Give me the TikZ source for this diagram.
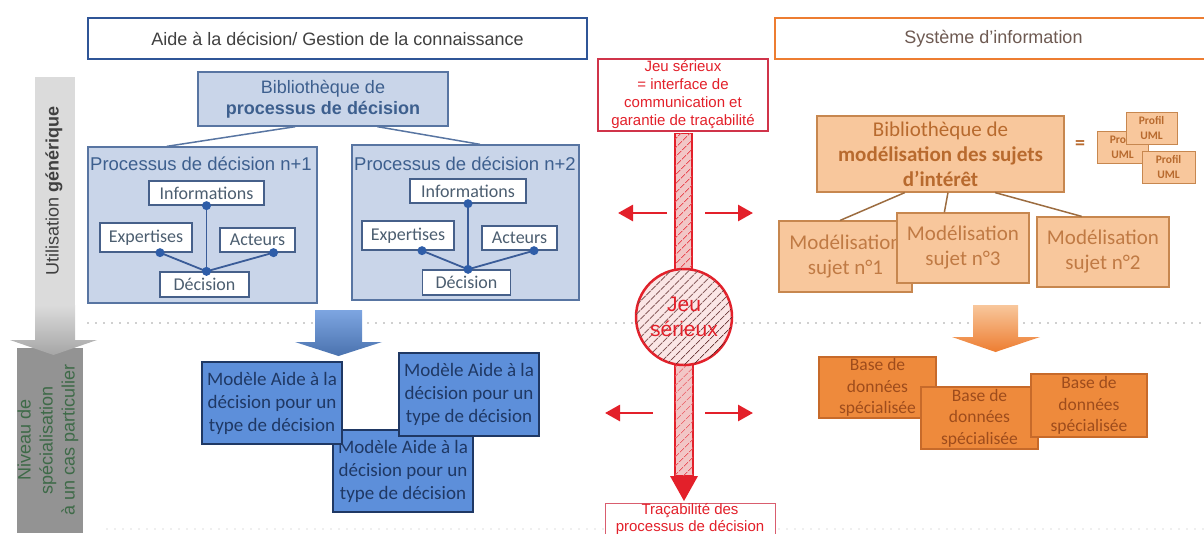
\documentclass[tikz,border=0pt]{standalone}
\usepackage{fontspec}
\setmainfont{Liberation Sans}
\newfontfamily\calibri{Carlito}
\usetikzlibrary{calc,arrows.meta,patterns.meta}

\definecolor{hdblue}{HTML}{2F5597}
\definecolor{hdorange}{HTML}{ED7D31}
\definecolor{hdtext}{HTML}{404040}
\definecolor{sitext}{HTML}{6E5A52}
\definecolor{libfill}{HTML}{C9D5E9}
\definecolor{libedge}{HTML}{5875A2}
\definecolor{libtext}{HTML}{3D5F8E}
\definecolor{itemedge}{HTML}{46608A}
\definecolor{itemtext}{HTML}{4C5E70}
\definecolor{linkblue}{HTML}{3A5C98}
\definecolor{dotblue}{HTML}{2E5DA8}
\definecolor{modfill}{HTML}{5D8FDA}
\definecolor{modedge}{HTML}{1F3864}
\definecolor{modtext}{HTML}{1F3864}
\definecolor{sujfill}{HTML}{F8C79C}
\definecolor{sujedge}{HTML}{C7874F}
\definecolor{sujtitle}{HTML}{B86A2E}
\definecolor{sujtext}{HTML}{C07A44}
\definecolor{sujlink}{HTML}{9C6C40}
\definecolor{basefill}{HTML}{EE8A3C}
\definecolor{baseedge}{HTML}{C76A2A}
\definecolor{basetext}{HTML}{9E4C1C}
\definecolor{jeured}{HTML}{E3202A}
\definecolor{jeuedge}{HTML}{D0344A}
\definecolor{barpink}{HTML}{F2C6C6}
\definecolor{circpink}{HTML}{FBE6E6}
\definecolor{circhatch}{HTML}{5A2222}
\definecolor{niveautext}{HTML}{3E6A48}

\begin{document}
\begin{tikzpicture}[x=1pt,y=-1pt,
  headbox/.style={draw, line width=2.5pt, fill=white, inner sep=0pt, minimum height=41pt, font=\fontsize{18}{21}\selectfont},
  libbox/.style={draw=libedge, line width=1.3pt, fill=libfill, inner sep=0pt},
  itembox/.style={draw=itemedge, line width=1.3pt, fill=white, inner sep=0pt, text=itemtext, font=\calibri\fontsize{18}{20}\selectfont},
  modbox/.style={draw=modedge, line width=1.2pt, fill=modfill, text=modtext, inner sep=0pt, minimum width=140pt, minimum height=82pt, align=center, font=\calibri\fontsize{19}{23}\selectfont},
  sujbox/.style={draw=sujedge, line width=1.2pt, fill=sujfill, text=sujtext, inner sep=0pt, minimum width=132pt, minimum height=70pt, align=center, font=\calibri\fontsize{21}{25}\selectfont},
  umlbox/.style={draw=sujedge, line width=1pt, fill=sujfill, text=sujtitle, inner sep=0pt, minimum width=51pt, minimum height=32pt, align=center, font=\calibri\bfseries\fontsize{11.5}{15}\selectfont},
  basebox/.style={draw=baseedge, line width=1.2pt, fill=basefill, text=basetext, inner sep=0pt, minimum width=117pt, minimum height=62pt, align=center, font=\calibri\fontsize{17.5}{21.5}\selectfont},
  link/.style={draw=linkblue, line width=1.8pt},
  sujline/.style={draw=sujlink, line width=1.5pt},
  sidearrow/.style={draw=jeured, line width=2.8pt, -{Triangle[length=15pt,width=16pt]}},
  hatch/.style={postaction={pattern={Lines[angle=45,distance=6.5pt,line width=0.9pt]}, pattern color=#1}},
  sepline/.style={draw=#1, line width=1.8pt, line cap=round, dash pattern=on 0pt off 8pt},
]
  \useasboundingbox (0,0) rectangle (1204,533);

  % separators
  \draw[sepline=gray!75] (88,323) -- (1204,323);
  \draw[sepline=gray!25] (107,529) -- (1204,529);

  % left level bar
  \fill[gray!28] (35,77) rectangle (75,305);
  \node[rotate=90, text=hdtext, font=\fontsize{18}{21}\selectfont] (utilis) at (54,191) {Utilisation \textbf{générique}};
  \fill[gray!85!white] (17,348) rectangle (83,533);
  \shade[top color=gray!28, bottom color=gray!70] (35,305) -- (75,305) -- (75,340) -- (97,340) -- (53.5,355) -- (10,340) -- (35,340) -- cycle;
  \node[rotate=90, align=center, text=niveautext, font=\fontsize{18}{22}\selectfont] (niveau) at (48,440) {Niveau de\\spécialisation\\à un cas particulier};

  % headers
  \node[headbox, draw=hdblue, text=hdtext, minimum width=499pt] (aidehead) at (337.5,38.5) {Aide à la décision/ Gestion de la connaissance};
  \node[headbox, draw=hdorange, text=sitext, minimum width=437pt] (sihead) at (993.5,38.5) {Système d'information};

  % decision library
  \node[libbox, minimum width=250pt, minimum height=54pt, align=center, text=libtext, font=\fontsize{18}{21}\selectfont] (bibdec) at (323,99) {Bibliothèque de\\\textbf{processus de décision}};
  \node[libbox, minimum width=229pt, minimum height=156pt] (proc1) at (202.5,225) {};
  \node[libbox, minimum width=227pt, minimum height=155pt] (proc2) at (465.5,222.5) {};
  \draw[link, draw=libedge, line width=1.5pt] ($(bibdec.south west)!0.39!(bibdec.south east)$) -- ($(proc1.north west)!0.345!(proc1.north east)$);
  \draw[link, draw=libedge, line width=1.5pt] ($(bibdec.south west)!0.716!(bibdec.south east)$) -- ($(proc2.north west)!0.564!(proc2.north east)$);
  \node[anchor=west, inner sep=0pt, text=libtext, font=\fontsize{18.5}{22}\selectfont] (title1) at (90,164) {Processus de décision n+1};
  \node[anchor=west, inner sep=0pt, text=libtext, font=\fontsize{18.5}{22}\selectfont] (title2) at (354,164) {Processus de décision n+2};

  % process n+1
  \node[itembox, minimum width=115pt, minimum height=24pt] (info1) at (206.5,193) {Informations};
  \node[itembox, minimum width=92pt, minimum height=29pt] (exp1) at (146,237.5) {Expertises};
  \node[itembox, minimum width=75pt, minimum height=24pt] (act1) at (257.5,240) {Acteurs};
  \node[itembox, minimum width=89pt, minimum height=25pt] (dec1) at (204.5,284.5) {Décision};
  \coordinate (e1) at ($(exp1.south west)!0.65!(exp1.south east)$);
  \coordinate (a1) at ($(act1.south west)!0.71!(act1.south east)$);
  \coordinate (d1) at (info1.south |- dec1.north);
  \draw[link] (info1.south) -- (d1);
  \draw[link] (e1) -- (d1);
  \draw[link] (a1) -- (d1);
  \foreach \p in {info1.south,e1,a1,d1}
    \fill[dotblue] (\p) circle (4.5pt);

  % process n+2
  \node[itembox, minimum width=116pt, minimum height=24pt] (info2) at (468,191) {Informations};
  \node[itembox, minimum width=92pt, minimum height=29pt] (exp2) at (408,235.5) {Expertises};
  \node[itembox, minimum width=75pt, minimum height=24pt] (act2) at (519.5,238) {Acteurs};
  \node[itembox, minimum width=88pt, minimum height=25pt] (dec2) at (466.5,282.5) {Décision};
  \coordinate (e2) at ($(exp2.south west)!0.65!(exp2.south east)$);
  \coordinate (a2) at ($(act2.south west)!0.69!(act2.south east)$);
  \coordinate (d2) at (info2.south |- dec2.north);
  \draw[link] (info2.south) -- (d2);
  \draw[link] (e2) -- (d2);
  \draw[link] (a2) -- (d2);
  \foreach \p in {info2.south,e2,a2,d2}
    \fill[dotblue] (\p) circle (4.5pt);

  % decision models
  \shade[top color=modfill!80!white, bottom color=modfill!80!black] (315,310) -- (362,310) -- (362,342) -- (382,342) -- (338.5,356) -- (295,342) -- (315,342) -- cycle;
  \node[modbox] (modC) at (403,471) {Modèle Aide à la\\décision pour un\\type de décision};
  \node[modbox] (modA) at (272,403) {Modèle Aide à la\\décision pour un\\type de décision};
  \node[modbox, minimum height=83pt] (modB) at (469,394.5) {Modèle Aide à la\\décision pour un\\type de décision};

  % serious game
  \node[draw=jeuedge, line width=1.5pt, fill=white, inner sep=0pt, minimum width=170pt, minimum height=72pt, align=center, text=jeured, font=\fontsize{15}{18}\selectfont] (redtop) at (683,95) {Jeu sérieux\\= interface de\\communication et\\garantie de traçabilité};
  \node[draw=jeuedge!80!white, line width=1pt, fill=white, anchor=north, inner sep=0pt, minimum width=170pt, minimum height=40pt, align=center, text=jeured, font=\fontsize{15}{16.5}\selectfont] (redbot) at (690,503) {Traçabilité des\\processus de décision\\[6pt]};
  \coordinate (jeuC) at (684,317);
  \draw[jeured, line width=1.2pt, fill=barpink, hatch=jeured!80!white] ($(redtop.south)+(-8,2)$) rectangle ($(jeuC)+(8,0)$);
  \draw[jeured, line width=1.2pt, fill=barpink, hatch=jeured!80!white] ($(jeuC)+(-9,0)$) rectangle ($(jeuC |- redbot.north)+(9,-27)$);
  \fill[jeured] ($(jeuC |- redbot.north)+(-14,-27)$) -- ($(jeuC |- redbot.north)+(14,-27)$) -- ($(jeuC |- redbot.north)+(0,-2)$) -- cycle;
  \node[circle, draw=jeured, line width=2.5pt, fill=circpink, hatch=circhatch, minimum size=96pt, inner sep=0pt] (jeu) at (jeuC) {};
  \node[align=center, text=jeured, font=\fontsize{21}{25}\selectfont] (jeutext) at (jeu.center) {Jeu\\sérieux};

  \coordinate (ulA) at (667,213); \coordinate (ulB) at (618,213);
  \coordinate (urA) at (705,213); \coordinate (urB) at (753,213);
  \coordinate (llA) at (653,413); \coordinate (llB) at (605,413);
  \coordinate (lrA) at (705,413); \coordinate (lrB) at (753,413);
  \draw[sidearrow] (ulA) -- (ulB);
  \draw[sidearrow] (urA) -- (urB);
  \draw[sidearrow] (llA) -- (llB);
  \draw[sidearrow] (lrA) -- (lrB);

  % subject library
  \node[sujbox, minimum width=247pt, minimum height=76pt, text=sujtitle] (bibsuj) at (940.5,154) {Bibliothèque de\\\textbf{modélisation des sujets}\\\textbf{d’intérêt}};
  \node[text=sujtitle, font=\calibri\bfseries\fontsize{20}{20}\selectfont] (equal) at (1080,145) {=};
  \node[umlbox] (uml1) at (1122.5,147) {Profil\\UML};
  \node[umlbox] (uml2) at (1151.5,128) {Profil\\UML};
  \node[umlbox, minimum width=53pt] (uml3) at (1168.5,167) {Profil\\UML};
  \node[sujbox, minimum width=133pt, minimum height=71pt] (suj1) at (845.5,256.5) {Modélisation\\sujet n°1};
  \node[sujbox] (suj3) at (963,248) {Modélisation\\sujet n°3};
  \node[sujbox] (suj2) at (1103,252) {Modélisation\\sujet n°2};
  \draw[sujline] ($(bibsuj.south west)!0.356!(bibsuj.south east)$) -- ($(suj1.north west)!0.46!(suj1.north east)$);
  \draw[sujline] ($(bibsuj.south west)!0.53!(bibsuj.south east)$) -- ($(suj3.north west)!0.36!(suj3.north east)$);
  \draw[sujline] ($(bibsuj.south west)!0.72!(bibsuj.south east)$) -- ($(suj2.north west)!0.34!(suj2.north east)$);

  % databases
  \shade[top color=sujfill, bottom color=hdorange] (973,305) -- (1018,305) -- (1018,337) -- (1040,337) -- (995.5,352) -- (952,337) -- (973,337) -- cycle;
  \node[basebox, minimum height=61pt] (base1) at (877.5,387.5) {Base de\\données\\spécialisée};
  \node[basebox] (base2) at (979.5,418) {Base de\\données\\spécialisée};
  \node[basebox, minimum width=116pt, minimum height=63pt] (base3) at (1089,405.5) {Base de\\données\\spécialisée};
\end{tikzpicture}
\end{document}
